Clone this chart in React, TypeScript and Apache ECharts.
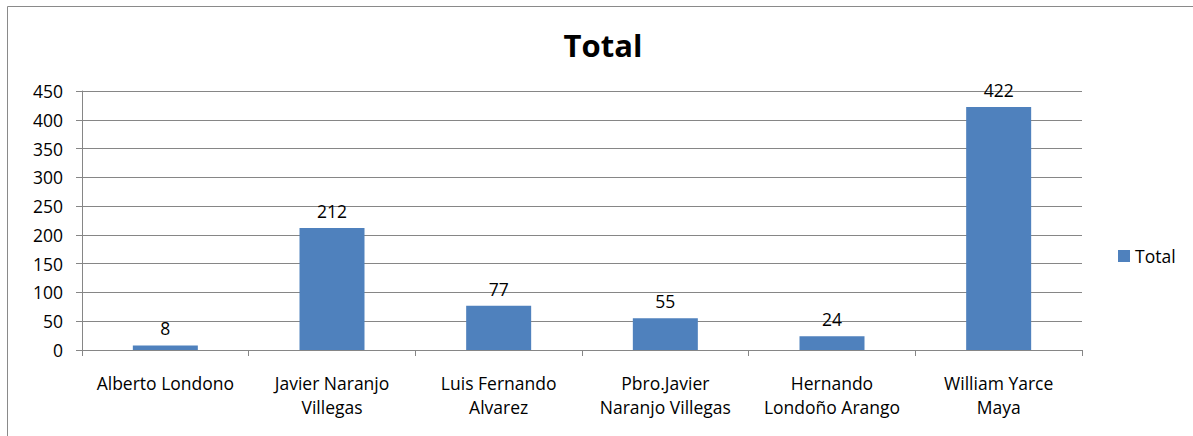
import React, { useEffect, useRef } from "react";
import * as echarts from "echarts";

const categories = [
  "Alberto Londono",
  "Javier Naranjo\nVillegas",
  "Luis Fernando\nAlvarez",
  "Pbro.Javier\nNaranjo Villegas",
  "Hernando\nLondoño Arango",
  "William Yarce\nMaya",
];
const totals = [8, 212, 77, 55, 24, 422];
const seriesName = "Total";

export default function App() {
  const ref = useRef<HTMLDivElement>(null);
  useEffect(() => {
    const chart = echarts.init(ref.current!, null, { renderer: "svg" });
    const font = "'Open Sans', 'Noto Sans', sans-serif";
    const fs = 17.5;
    chart.setOption({
      animation: false,
      backgroundColor: "#ffffff",
      textStyle: { fontFamily: font },
      title: {
        text: "Total",
        left: 598,
        top: 24,
        textAlign: "center",
        textStyle: { fontSize: 31, fontWeight: "bold", color: "#000", fontFamily: font },
      },
      graphic: [
        {
          type: "rect",
          shape: { x: 7.5, y: 6.5, width: 1200, height: 440 },
          style: { fill: "none", stroke: "#8a8a8a", lineWidth: 1 },
          silent: true,
        },
      ],
      legend: {
        data: [seriesName],
        left: 1113,
        top: 242,
        itemWidth: 12,
        itemHeight: 12,
        itemGap: 5,
        icon: "rect",
        textStyle: { fontSize: fs, color: "#000", fontFamily: font, padding: [0, 0, 0, 0] },
      },
      grid: { left: 82, top: 91, width: 1000, height: 259, containLabel: false },
      xAxis: {
        type: "category",
        data: categories,
        axisLine: { show: true, lineStyle: { color: "#868686", width: 1 } },
        axisTick: { show: true, length: 6, alignWithLabel: false, lineStyle: { color: "#868686" } },
        axisLabel: {
          interval: 0,
          margin: 21,
          fontSize: fs,
          lineHeight: 24,
          color: "#000",
          fontFamily: font,
        },
        splitLine: { show: false },
      },
      yAxis: {
        type: "value",
        min: 0,
        max: 450,
        interval: 50,
        axisLine: { show: true, lineStyle: { color: "#868686", width: 1 } },
        axisTick: { show: true, length: 6, lineStyle: { color: "#868686" } },
        axisLabel: { fontSize: fs, color: "#000", margin: 19, fontFamily: font },
        splitLine: { show: true, lineStyle: { color: "#868686", width: 1 } },
      },
      series: [
        {
          name: seriesName,
          type: "bar",
          data: totals,
          barWidth: "39%",
          itemStyle: { color: "#4F81BD" },
          label: {
            show: true,
            position: "top",
            distance: 8,
            fontSize: fs,
            color: "#000",
            fontFamily: font,
          },
        },
      ],
    });
    return () => chart.dispose();
  }, []);
  return (
    <div
      ref={ref}
      style={{ position: "fixed", left: 0, top: 0, width: 1193, height: 436 }}
    />
  );
}
